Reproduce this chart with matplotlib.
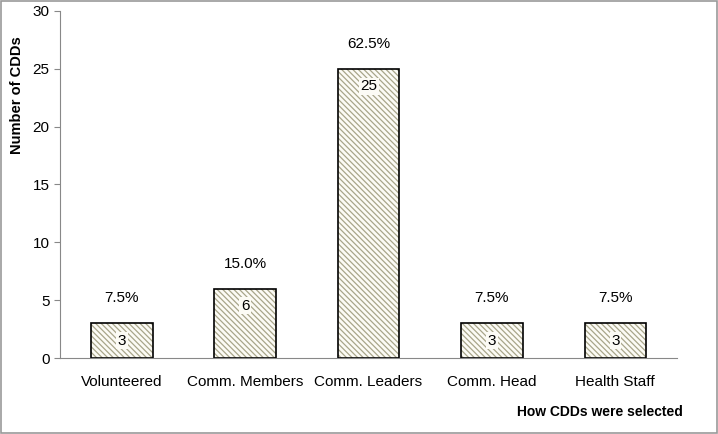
import matplotlib
matplotlib.use('Agg')
import matplotlib.pyplot as plt

plt.rcParams['font.family'] = ['Liberation Sans', 'DejaVu Sans']
plt.rcParams['hatch.linewidth'] = 0.9

categories = ['Volunteered', 'Comm. Members', 'Comm. Leaders', 'Comm. Head', 'Health Staff']
counts = [3, 6, 25, 3, 3]
percents = ['7.5%', '15.0%', '62.5%', '7.5%', '7.5%']

fig = plt.figure(figsize=(7.18, 4.34), dpi=100)
ax = fig.add_axes([0.0836, 0.175, 0.8594, 0.80])

x = range(len(categories))
# hatch layer (hatch takes the edge colour), then the black outline on top
ax.bar(x, counts, width=0.5, color='#fcfbf5', edgecolor='#a8a58a',
       linewidth=0, hatch='\\\\\\\\\\\\')
bars = ax.bar(x, counts, width=0.5, fill=False, edgecolor='black', linewidth=1.2)

for b, c, p in zip(bars, counts, percents):
    cx = b.get_x() + b.get_width() / 2
    ax.annotate(p, xy=(cx, c), xytext=(0, 18), textcoords='offset points',
                ha='center', va='center', fontsize=11)
    ax.annotate(str(c), xy=(cx, c), xytext=(0, -12.5), textcoords='offset points',
                ha='center', va='center', fontsize=11,
                bbox=dict(boxstyle='square,pad=0.1', fc='#fcfbf5', ec='none'))

ax.set_xlim(-0.5, len(categories) - 0.5)
ax.set_ylim(0, 30)
ax.set_yticks(range(0, 31, 5))
ax.set_xticks(list(x))
ax.set_xticklabels(categories, fontsize=11)
ax.tick_params(axis='y', labelsize=11, color='#888888', length=4)
ax.tick_params(axis='x', length=0, pad=12)
for s in ['top', 'right']:
    ax.spines[s].set_visible(False)
ax.spines['left'].set_color('#888888')
ax.spines['bottom'].set_color('#888888')

fig.text(0.024, 0.78, 'Number of CDDs', rotation=90, ha='center', va='center',
         fontsize=10.5, fontweight='bold')
fig.text(0.835, 0.05, 'How CDDs were selected', ha='center', va='center',
         fontsize=10, fontweight='bold')

fig.patches.append(plt.Rectangle((0.001, 0.002), 0.997, 0.995, transform=fig.transFigure,
                                 fill=False, edgecolor='#999999', linewidth=1.2))

fig.savefig('out.png', dpi=100)
